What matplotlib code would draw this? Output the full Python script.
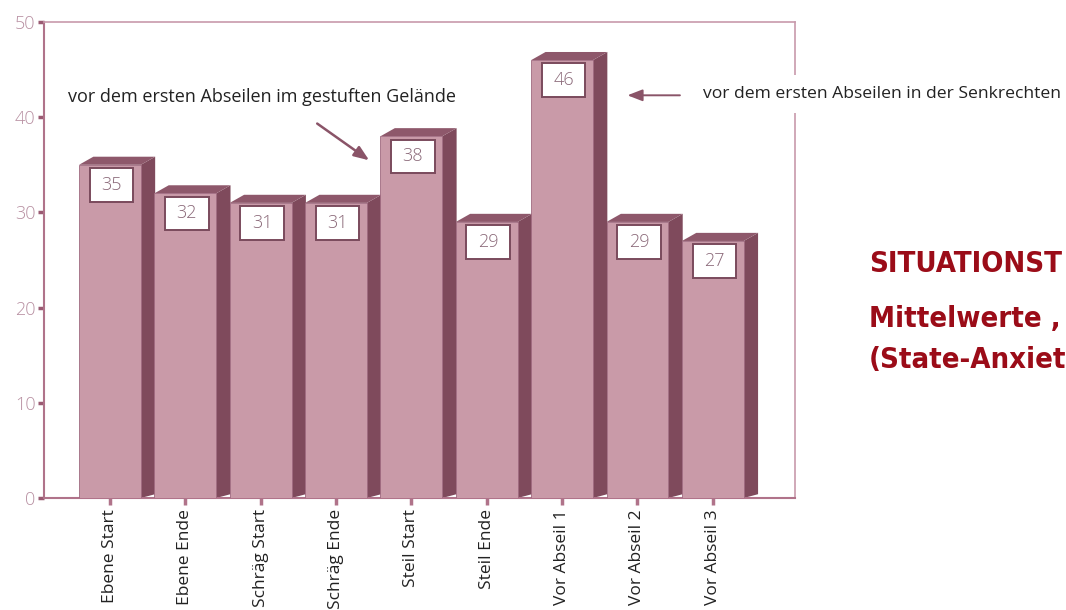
import numpy as np
import matplotlib.pyplot as plt
from matplotlib.patches import Polygon, Rectangle

# data
categories = ["Ebene Start", "Ebene Ende", "Schräg Start", "Schräg Ende", "Steil Start",
              "Steil Ende", "Vor Abseil 1", "Vor Abseil 2", "Vor Abseil 3"]
values = [35, 32, 31, 31, 38, 29, 46, 29, 27]
yticks = [0, 10, 20, 30, 40, 50]

note_left = "vor dem ersten Abseilen im gestuften Gelände"
note_right = "vor dem ersten Abseilen in der Senkrechten"
title_lines = ["SITUATIONST", "Mittelwerte ,", "(State-Anxiet"]

# colours
front_col = "#c99aa8"
side_col = "#7f4a5c"
top_col = "#8e586b"
axis_col = "#b0738a"
label_col = "#b890a2"
red = "#9b0c18"

fig = plt.figure(figsize=(10.66, 6.10), dpi=100)
ax = fig.add_axes([44 / 1066, 1 - 498 / 610, 751 / 1066, 476 / 610])
ax.set_xlim(-0.875, 9.09)
ax.set_ylim(0, 50)

w = 0.82      # front face width
dx = 0.19     # depth to the right
dy = 0.85     # depth upwards

for i, v in enumerate(values):
    x0 = i - w / 2
    x1 = i + w / 2
    # side face
    ax.add_patch(Polygon([(x1, 0), (x1, v), (x1 + dx, v + dy), (x1 + dx, 0.4)],
                         closed=True, facecolor=side_col, edgecolor="none", zorder=2))
    # top face
    ax.add_patch(Polygon([(x0, v), (x0 + dx, v + dy), (x1 + dx, v + dy), (x1, v)],
                         closed=True, facecolor=top_col, edgecolor="none", zorder=2))
    # front face
    ax.add_patch(Rectangle((x0, 0), w, v, facecolor=front_col, edgecolor="#a06a80",
                           lw=0.6, zorder=3))
    # value box
    ax.add_patch(Rectangle((i - 0.27, v - 3.9), 0.58, 3.55, facecolor="white",
                           edgecolor="#7a4a5c", lw=1.4, zorder=4))
    ax.text(i + 0.02, v - 2.1, str(v), ha="center", va="center", fontsize=13,
            color="#8a6878", family="Open Sans", fontweight="light", zorder=5)

ax.set_xticks(range(len(categories)))
ax.set_xticklabels(categories, rotation=90, fontsize=12.5, color="#222222",
                   family="Open Sans")
ax.set_yticks(yticks)
ax.set_yticklabels([str(t) for t in yticks], fontsize=13, color=label_col,
                   family="Open Sans", fontweight="light")
ax.tick_params(axis="x", length=5, width=2.5, color=axis_col, pad=3)
ax.tick_params(axis="y", length=4, width=2.5, color="#9a5a72", pad=2)

for side in ["left", "bottom"]:
    ax.spines[side].set_color(axis_col)
    ax.spines[side].set_linewidth(1.5)
for side in ["top", "right"]:
    ax.spines[side].set_color("#c89aac")
    ax.spines[side].set_linewidth(1.2)

# annotations
ax.text(2.02, 42.1, note_left, ha="center", va="center", fontsize=13,
        family="Open Sans", color="#222222", zorder=6)
ax.annotate("", xy=(3.47, 35.3), xytext=(2.72, 39.5),
            arrowprops=dict(arrowstyle="-|>,head_length=0.9,head_width=0.35",
                            color="#8a5468", lw=1.8), zorder=6)
ax.annotate("", xy=(6.83, 42.3), xytext=(7.6, 42.3),
            arrowprops=dict(arrowstyle="-|>,head_length=0.9,head_width=0.35",
                            color="#8a5468", lw=1.4), zorder=6)
fig.text(703 / 1066, 1 - 94 / 610, note_right, ha="left", va="center", fontsize=12.6,
         family="Open Sans", color="#222222",
         bbox=dict(facecolor="white", edgecolor="none", pad=8), zorder=10)

# red heading on the right, cut off by the image edge in the original
for k, yb in enumerate([272, 327, 368]):
    fig.text(869 / 1066, 1 - yb / 610, title_lines[k], ha="left", va="baseline",
             fontsize=21, fontweight="bold", family="DejaVu Sans",
             fontstretch="condensed", color=red)

fig.savefig("out.png", dpi=100)
